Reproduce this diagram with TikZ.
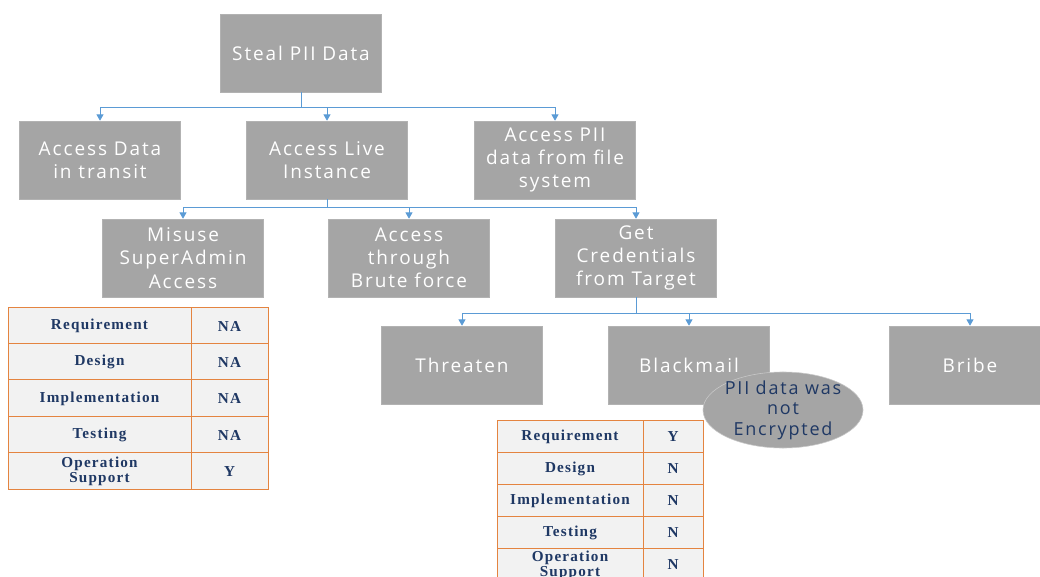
\documentclass[tikz,border=0pt]{standalone}
\usepackage{fontspec}
\setmainfont{Open Sans}[LetterSpace=10]
\newfontfamily\tabfont{Liberation Serif}[LetterSpace=8]
\usetikzlibrary{arrows.meta,shapes.geometric}
\definecolor{boxgray}{HTML}{A5A5A5}
\definecolor{linkblue}{HTML}{5B9BD5}
\definecolor{tabedge}{HTML}{E48440}
\definecolor{tabfill}{HTML}{F2F2F2}
\definecolor{navy}{HTML}{1F3864}
\begin{document}
\begin{tikzpicture}[x=0.025cm, y=-0.025cm,
    goal/.style={fill=boxgray, draw=boxgray!85!white, minimum width=4.025cm, minimum height=1.95cm,
      text=white, align=center, font=\fontsize{13.5}{16.5}\selectfont, inner sep=1pt},
    link/.style={draw=linkblue, semithick, -{Triangle[width=5pt,length=4.5pt]}},
    cell/.style={draw=tabedge, fill=tabfill, semithick},
    celltext/.style={text=navy, align=center, font=\tabfont\bfseries\fontsize{10.8}{10.5}\selectfont, inner sep=0pt},
    note/.style={ellipse, fill=boxgray, draw=boxgray!60!white, inner xsep=-3pt, inner ysep=-3.2pt,
      minimum width=4cm, minimum height=1.9cm,
      text=navy, align=center, font=\fontsize{12.8}{14.6}\selectfont}]
    \useasboundingbox (0,0) rectangle (1040,577);
    % goal tree
    \node[goal] (root) at (301,53) {Steal PII Data};
    \node[goal] (transit) at (100,160) {Access Data\\in transit};
    \node[goal] (live) at (327,160) {Access Live\\Instance};
    \node[goal] (files) at (555,160) {Access PII\\data from file\\system};
    \node[goal] (misuse) at (183,258) {Misuse\\SuperAdmin\\Access};
    \node[goal] (brute) at (409,258) {Access\\through\\Brute force};
    \node[goal] (creds) at (636,258) {Get\\Credentials\\from Target};
    \node[goal] (threaten) at (462,365) {Threaten};
    \node[goal] (blackmail) at (689,365) {Blackmail};
    \node[goal] (bribe) at (970,365) {Bribe};
    \node[note] (noenc) at (783,410) {PII data was\\not\\Encrypted};
    % connectors
    \foreach \kid in {transit,live,files}
        \draw[link] (root.south) -- ++(0,15) -| (\kid.north);
    \foreach \kid in {misuse,brute,creds}
        \draw[link] (live.south) -- ++(0,8) -| (\kid.north);
    \foreach \kid in {threaten,blackmail,bribe}
        \draw[link] (creds.south) -- ++(0,16) -| (\kid.north);
    % left table
    \foreach \i/\lab/\val in {0/Requirement/NA, 1/Design/NA, 2/Implementation/NA, 3/Testing/NA, 4/{Operation\\Support}/Y} {
        \draw[cell] (8,307+36.4*\i) rectangle (191,307+36.4*\i+36.4);
        \draw[cell] (191,307+36.4*\i) rectangle (268,307+36.4*\i+36.4);
        \node[celltext] (lphase\i) at (99.5,326+36.4*\i) {\lab};
        \node[celltext] (lmark\i) at (229.5,326+36.4*\i) {\val};
    }
    % right table
    \foreach \i/\lab/\val in {0/Requirement/Y, 1/Design/N, 2/Implementation/N, 3/Testing/N, 4/{Operation\\Support}/N} {
        \draw[cell] (497,420+32*\i) rectangle (643,452+32*\i);
        \draw[cell] (643,420+32*\i) rectangle (703,452+32*\i);
        \node[celltext] (rphase\i) at (570,437+32*\i) {\lab};
        \node[celltext] (rmark\i) at (673,437+32*\i) {\val};
    }
\end{tikzpicture}
\end{document}
